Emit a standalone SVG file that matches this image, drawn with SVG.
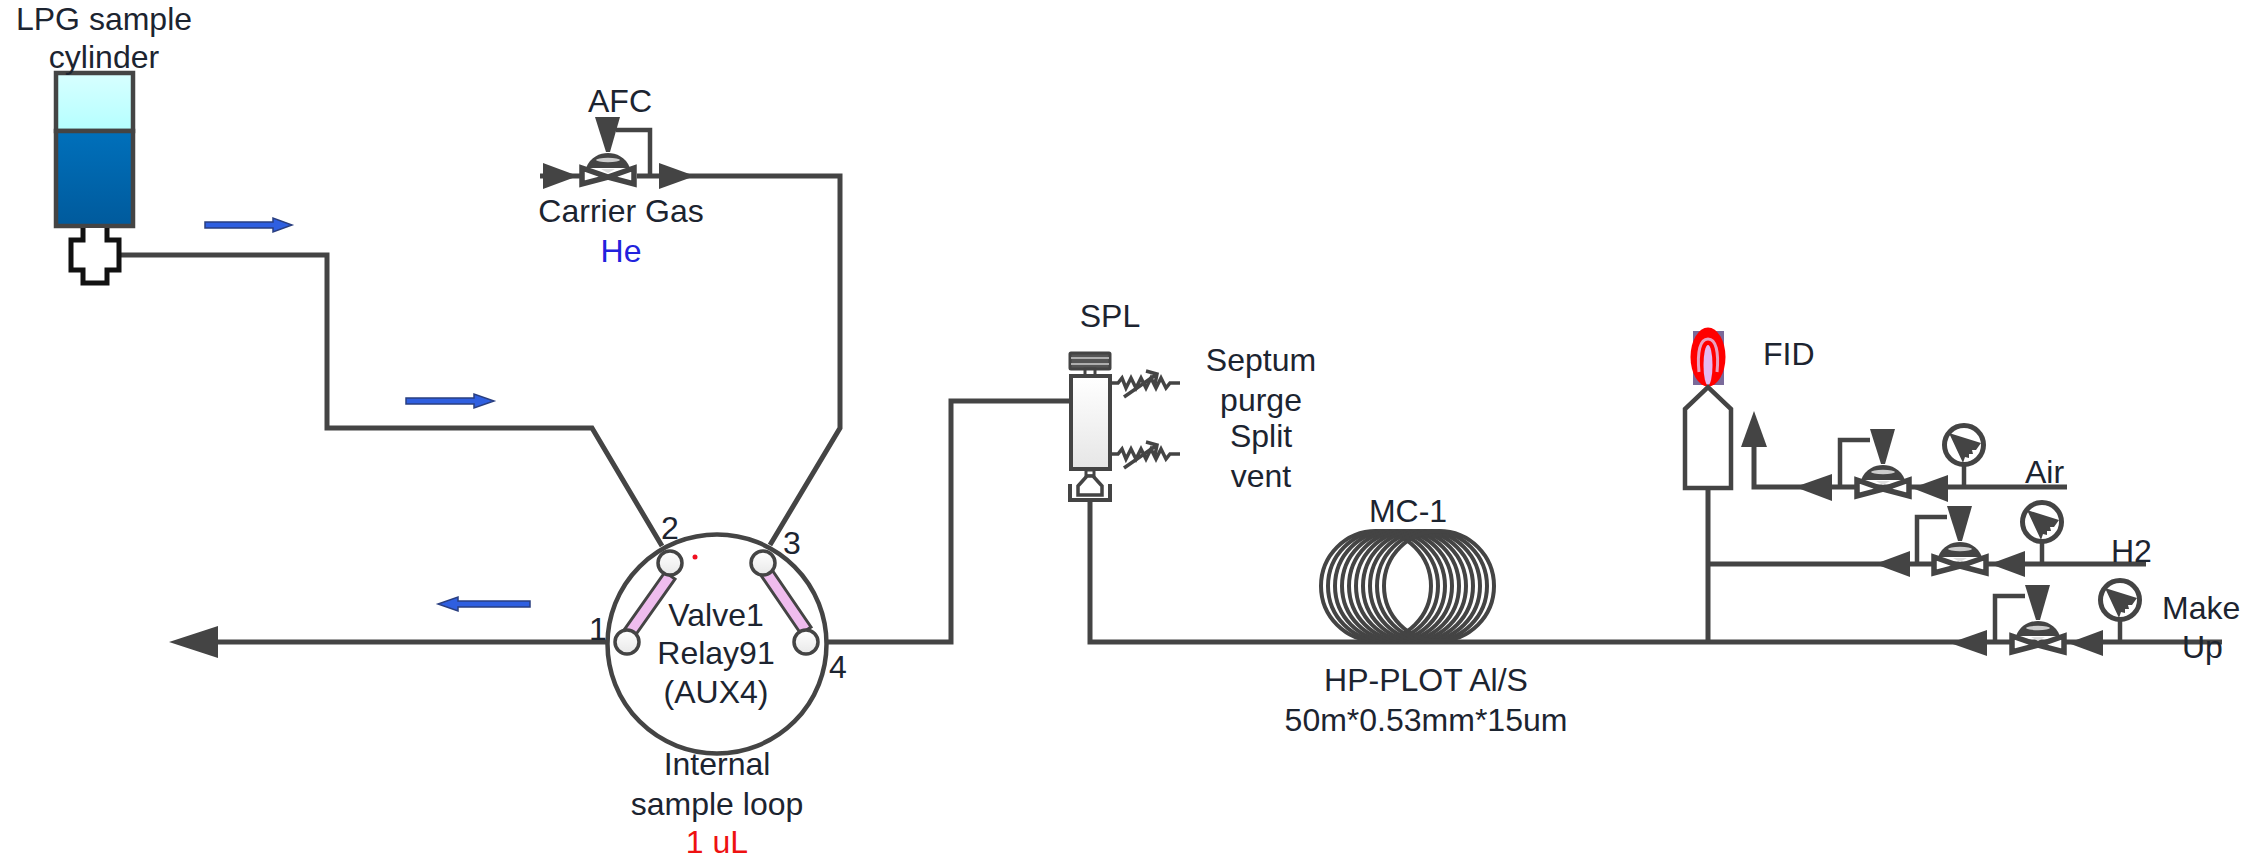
<svg xmlns="http://www.w3.org/2000/svg" xmlns:xlink="http://www.w3.org/1999/xlink" width="2249" height="858" viewBox="0 0 2249 858">
<style>
text{font-family:"Liberation Sans",Arial,sans-serif;font-size:32px;fill:#1c2430;text-anchor:middle}
.s{text-anchor:start}
.l{fill:none;stroke:#444;stroke-width:5;stroke-linejoin:miter}
.t{fill:none;stroke:#444;stroke-width:4.500}
.h{fill:#444;stroke:none}
.b{fill:#2f5fe0;stroke:#2a3f80;stroke-width:1.500}
.c{fill:none;stroke:#444;stroke-width:4}
.p{fill:url(#port);stroke:#444;stroke-width:3.500}
.k{fill:#efbcee;stroke:#444;stroke-width:3}
</style>
<defs>
<linearGradient id="lite" x1="0" y1="0" x2="0" y2="1"><stop offset="0" stop-color="#d8ffff"/><stop offset="1" stop-color="#b4ffff"/></linearGradient>
<linearGradient id="deep" x1="0" y1="0" x2="0" y2="1"><stop offset="0" stop-color="#0070bb"/><stop offset="1" stop-color="#005a9c"/></linearGradient>
<linearGradient id="port" x1="0" y1="0" x2="0" y2="1"><stop offset="0" stop-color="#ffffff"/><stop offset="1" stop-color="#e8e8e8"/></linearGradient>
<linearGradient id="body" x1="0" y1="0" x2="0" y2="1"><stop offset="0" stop-color="#ffffff"/><stop offset="1" stop-color="#e6e6e6"/></linearGradient>
<g id="valve">
<path d="M-26-8 0 1 26-8V8L0 1-26 8Z" fill="#fff" stroke="#444" stroke-width="5.500" stroke-linejoin="miter"/>
<path d="M-22-8C-18-19-8-23 0-23S18-19 22-8Z" fill="#444"/>
<ellipse cx="0" cy="-16" rx="12" ry="2.200" fill="#ccc"/>
<path d="M-7-7H7L0-3Z" fill="#ddd"/>
<path d="M-13-59H12L2-24H-2Z" fill="#444"/>
</g>
<g id="gauge">
<circle r="19.500" fill="#fff" stroke="#444" stroke-width="5"/>
<path d="M-15-12 17-2 12 5 8 5 9 9 5 9 5 13 1 12-1 18Z" fill="#444"/>
</g>
<g id="res">
<path d="M0 0H8L12-5 16 5 21-5 26 5 31-5 36 5 41-5 46 5 51-5 56 5 60 0H70" fill="none" stroke="#444" stroke-width="3.500"/>
<path d="M14 14 47-9M36-12 47-9 45 1" fill="none" stroke="#444" stroke-width="3.500"/>
</g>
</defs>

<g id="connectors">
<path class="l" d="M120 255H327V428H592L662 546"/>
<path class="l" d="M770 545 840 428V176H637"/>
<path class="l" d="M607 642H205"/>
<path class="h" d="M169 642 218 626V658Z"/>
<path class="l" d="M827 642H951V401H1070"/>
<path class="l" d="M1090 501V642H2222"/>
<path class="l" d="M1708 488V642"/>
<path class="l" d="M1708 564H2146"/>
<path class="l" d="M1754 440V487H2067"/>
<path class="h" d="M1754 411 1767 447H1741Z"/>
<path class="h" d="M1795 487 1832 474V501Z"/>
<path class="h" d="M1912 488 1948 475V502Z"/>
<path class="h" d="M1875 564 1910 551V577Z"/>
<path class="h" d="M1990 564 2025 551V577Z"/>
<path class="h" d="M1950 643 1987 630V656Z"/>
<path class="h" d="M2068 643 2103 630V656Z"/>
<path class="l" d="M540 176H580"/>
<path class="h" d="M578 176 543 163V189Z"/>
<path class="h" d="M695 176 659 163V189Z"/>
<path class="t" d="M616 130H650V176"/>
<path class="t" d="M1870 440H1840V487"/>
<path class="t" d="M1947 517H1917V564"/>
<path class="t" d="M2025 596H1995V643"/>
</g>

<g id="cylinder">
<rect x="56" y="73" width="77" height="58" fill="url(#lite)" stroke="#444" stroke-width="4.500"/>
<rect x="56" y="131" width="77" height="95" fill="url(#deep)" stroke="#444" stroke-width="4.500"/>
<path d="M83 228V240H71V270H83V283H107V270H119V240H107V228" fill="#fff" stroke="#111" stroke-width="5"/>
<text x="104" y="30">LPG sample</text>
<text x="104" y="68">cylinder</text>
</g>

<g id="flow-arrows">
<path class="b" d="M205 222H273V218L292 225 273 232V228H205Z"/>
<path class="b" d="M406 398H474V394L494 401 474 408V404H406Z"/>
<path class="b" d="M530 601H458V597L438 604 458 611V607H530Z"/>
</g>

<g id="afc">
<use href="#valve" x="608" y="176"/>
<text x="620" y="112">AFC</text>
<text x="621" y="222">Carrier Gas</text>
<text x="621" y="262" style="fill:#2222dd">He</text>
</g>

<g id="valve1">
<circle cx="717" cy="644" r="109.500" fill="#fff" stroke="#444" stroke-width="4.500"/>
<path class="k" d="M665 572 622 633 632 640 675 579Z"/>
<path class="k" d="M758 571 801 634 811 627 768 564Z"/>
<circle class="p" cx="670" cy="563" r="12"/>
<circle class="p" cx="763" cy="563" r="12"/>
<circle class="p" cx="627" cy="642" r="12"/>
<circle class="p" cx="806" cy="642" r="12"/>
<circle cx="695" cy="557" r="2.500" fill="#f01020"/>
<text x="670" y="539">2</text>
<text x="792" y="554">3</text>
<text x="598" y="640">1</text>
<text x="838" y="678">4</text>
<text x="716" y="626">Valve1</text>
<text x="716" y="664">Relay91</text>
<text x="716" y="703">(AUX4)</text>
<text x="717" y="775">Internal</text>
<text x="717" y="815">sample loop</text>
<text x="717" y="853" style="fill:#ee1111">1 uL</text>
</g>

<g id="spl">
<rect x="1070" y="353" width="40" height="16" rx="1" fill="#555" stroke="#444" stroke-width="3"/>
<path d="M1071 358H1109M1071 364H1109" stroke="#ccc" stroke-width="1.500" fill="none"/>
<rect x="1085" y="369" width="10" height="7" fill="#fff" stroke="#444" stroke-width="3"/>
<rect x="1071" y="376" width="39" height="93" fill="url(#body)" stroke="#444" stroke-width="4"/>
<rect x="1086" y="470" width="8" height="6" fill="#fff" stroke="#444" stroke-width="3"/>
<path d="M1087 476 1078 486V495H1102V486L1093 476Z" fill="#fff" stroke="#444" stroke-width="3.500"/>
<path d="M1070 484V500H1110V484" fill="none" stroke="#444" stroke-width="4"/>
<use href="#res" x="1110" y="383"/>
<use href="#res" x="1110" y="454"/>
<text x="1110" y="327">SPL</text>
<text x="1261" y="371">Septum</text>
<text x="1261" y="411">purge</text>
<text x="1261" y="447">Split</text>
<text x="1261" y="487">vent</text>
</g>

<g id="mc-1">
<ellipse class="c" cx="1376" cy="586" rx="55" ry="55"/>
<ellipse class="c" cx="1383" cy="586" rx="55" ry="55"/>
<ellipse class="c" cx="1390" cy="586" rx="55" ry="55"/>
<ellipse class="c" cx="1397" cy="586" rx="55" ry="55"/>
<ellipse class="c" cx="1404" cy="586" rx="55" ry="55"/>
<ellipse class="c" cx="1411" cy="586" rx="55" ry="55"/>
<ellipse class="c" cx="1418" cy="586" rx="55" ry="55"/>
<ellipse class="c" cx="1425" cy="586" rx="55" ry="55"/>
<ellipse class="c" cx="1432" cy="586" rx="55" ry="55"/>
<ellipse class="c" cx="1439" cy="586" rx="55" ry="55"/>
<text x="1408" y="522">MC-1</text>
<text x="1426" y="691">HP-PLOT Al/S</text>
<text x="1426" y="731">50m*0.53mm*15um</text>
</g>

<g id="fid">
<rect x="1693" y="331" width="31" height="54" fill="#7a6a9a"/>
<ellipse cx="1708" cy="357" rx="17.500" ry="29.500" fill="#f00"/>
<path d="M1699 372C1697 352 1700 339 1708 339 1716 339 1719 352 1717 372" fill="none" stroke="#e8a0c0" stroke-width="3"/>
<ellipse cx="1708" cy="365" rx="4.500" ry="20" fill="#e4b8f0"/>
<path d="M1685 488V409L1708 387 1731 409V488Z" fill="#fff" stroke="#444" stroke-width="4.500"/>
<text class="s" x="1763" y="365">FID</text>
</g>

<g id="air">
<use href="#valve" x="1883" y="488"/>
<use href="#gauge" x="1964" y="445"/>
<path class="t" d="M1964 465V488"/>
<text class="s" x="2025" y="483">Air</text>
</g>
<g id="h2">
<use href="#valve" x="1960" y="565"/>
<use href="#gauge" x="2042" y="522"/>
<path class="t" d="M2042 542V564"/>
<text class="s" x="2111" y="562">H2</text>
</g>
<g id="make-up">
<use href="#valve" x="2038" y="644"/>
<use href="#gauge" x="2120" y="600"/>
<path class="t" d="M2120 620V643"/>
<text class="s" x="2162" y="619">Make</text>
<text class="s" x="2182" y="658">Up</text>
</g>
</svg>
